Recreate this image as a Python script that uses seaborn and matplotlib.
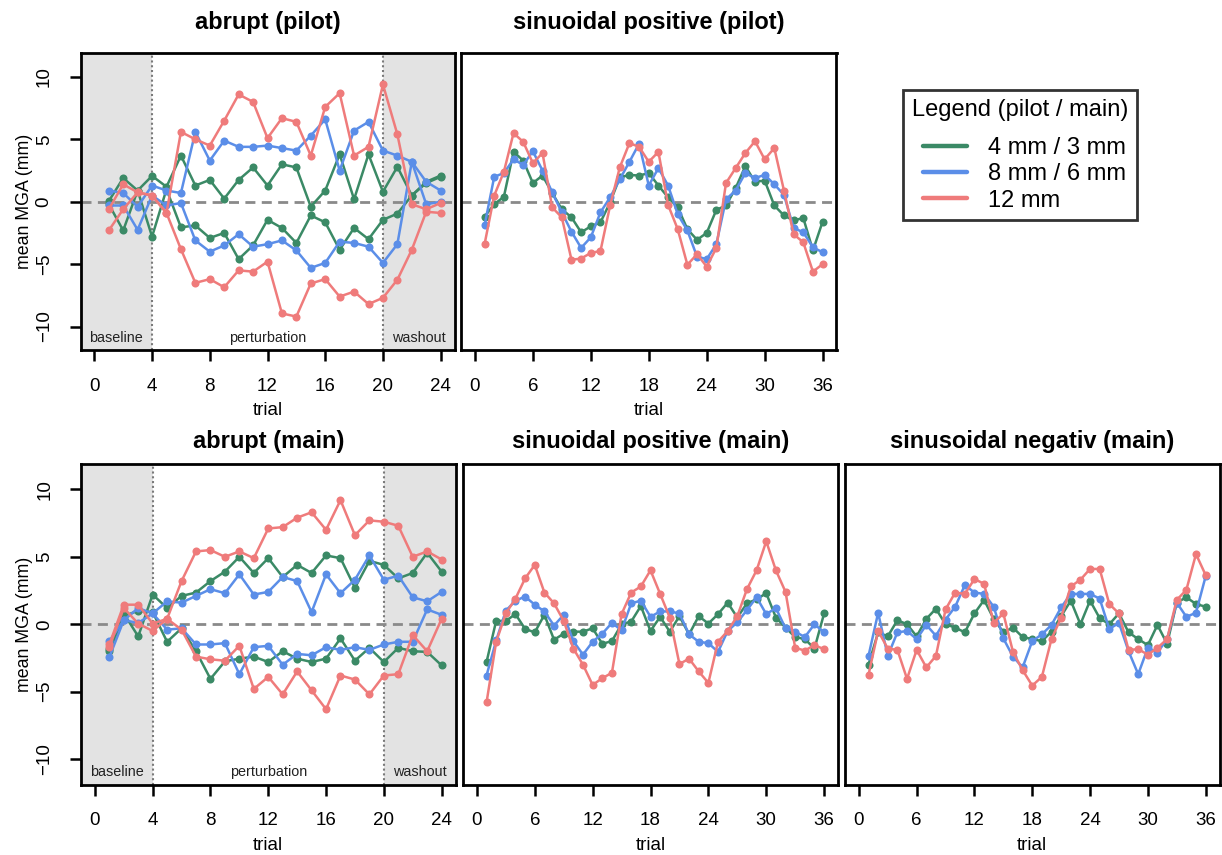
import numpy as np
import pandas as pd
import matplotlib
matplotlib.use("Agg")
import matplotlib.pyplot as plt
import seaborn as sns
from matplotlib.lines import Line2D
from matplotlib.legend_handler import HandlerBase

sns.set_style("ticks")
plt.rcParams["font.family"] = ["Liberation Sans", "DejaVu Sans"]
plt.rcParams["text.color"] = "black"
plt.rcParams["axes.labelcolor"] = "black"
plt.rcParams["axes.titlecolor"] = "black"

# ---------------- data ----------------
sizes = ["4 mm / 3 mm", "8 mm / 6 mm", "12 mm"]
colors = ["#3b8a66", "#5b8ee8", "#ef7b7b"]
trials24 = list(range(1, 25))
trials36 = list(range(1, 37))
xticks24 = [0, 4, 8, 12, 16, 20, 24]
xticks36 = [0, 6, 12, 18, 24, 30, 36]
yticks = [-10, -5, 0, 5, 10]
ytick_labels = ["\u221210", "\u22125", "0", "5", "10"]
phase_labels = ["baseline", "perturbation", "washout"]
titles = ["abrupt (pilot)", "sinuoidal positive (pilot)", "abrupt (main)",
          "sinuoidal positive (main)", "sinusoidal negativ (main)"]

# abrupt (pilot): positive / negative perturbation direction
ap_g_pos = [0.05, 1.9, 0.9, 2.07, 1.2, 3.7, 1.3, 1.75, 0.25, 1.75, 2.75, 1.3,
            3.0, 2.75, -0.4, 0.9, 3.8, 0.2, 3.8, 0.8, 2.8, 0.5, 1.5, 2.0]
ap_g_neg = [-0.2, -2.3, 0.9, -2.8, 1.0, -2.05, -1.9, -2.9, -2.5, -4.6, -3.5, -1.45,
            -2.1, -3.3, -1.1, -1.65, -3.85, -2.1, -3.0, -1.45, -0.95, 0.5, 1.6, 2.1]
ap_b_pos = [0.9, 0.7, -0.4, 1.3, 0.9, 0.7, 5.6, 3.3, 4.9, 4.4, 4.4, 4.5,
            4.3, 4.1, 5.3, 6.6, 2.5, 5.7, 6.4, 4.1, 3.7, 3.2, 1.6, 0.9]
ap_b_neg = [-0.3, -0.3, -2.25, 0.5, -0.3, -0.1, -3.1, -4.0, -3.5, -2.6, -3.6, -3.4,
            -3.1, -3.9, -5.3, -4.9, -3.2, -3.3, -3.6, -4.9, -3.4, 3.2, -0.2, 0.0]
ap_r_pos = [-0.6, 1.4, 0.75, 0.5, -0.9, 5.6, 5.0, 4.5, 6.5, 8.6, 8.0, 5.1,
            6.7, 6.4, 3.7, 7.6, 8.7, 3.7, 4.4, 9.4, 5.4, -0.2, -0.6, -0.1]
ap_r_neg = [-2.3, -0.6, 0.75, 0.5, -0.9, -3.8, -6.5, -6.2, -6.85, -5.5, -5.6, -4.8,
            -8.95, -9.2, -6.55, -6.2, -7.6, -7.2, -8.2, -7.7, -6.25, -3.85, -0.8, -0.9]

# sinusoidal positive (pilot)
sp_g = [-1.2, -0.2, 0.4, 4.0, 3.3, 1.5, 2.1, 0.7, -0.6, -1.25, -2.45, -1.97,
        -1.65, -0.05, 1.95, 2.15, 2.1, 2.3, 1.3, 0.35, -0.45, -2.2, -3.05, -2.5,
        -0.65, -0.3, 1.1, 2.85, 1.6, 1.7, -0.3, -1.1, -1.5, -1.3, -3.9, -1.6]
sp_b = [-1.9, 2.0, 2.3, 3.4, 2.95, 4.05, 2.5, 0.75, -0.85, -2.4, -3.7, -2.85,
        -0.85, 0.35, 1.8, 3.2, 4.65, 1.3, 2.7, 1.3, -1.0, -2.3, -4.4, -4.6,
        -3.4, 0.2, 0.9, 2.3, 1.9, 2.15, 1.4, 0.55, -2.1, -2.45, -3.65, -4.05]
sp_r = [-3.4, 0.5, 2.4, 5.5, 4.8, 3.1, 3.9, -0.45, -1.25, -4.65, -4.55, -4.1,
        -3.95, -0.3, 2.75, 4.7, 4.4, 3.2, 4.0, -0.25, -2.2, -5.05, -4.2, -5.2,
        -3.7, 1.5, 2.7, 3.9, 4.85, 3.4, 4.3, 0.9, -2.6, -3.25, -5.6, -5.0]

# abrupt (main)
am_g_pos = [-1.8, 0.8, -0.9, 2.2, 1.2, 2.1, 2.35, 3.2, 3.9, 5.0, 3.8, 4.9,
            3.5, 4.4, 3.8, 5.1, 4.9, 2.7, 4.7, 4.4, 3.4, 3.8, 5.3, 3.9]
am_g_neg = [-2.0, 0.6, 1.0, 0.9, -1.3, -0.3, -2.0, -4.05, -2.75, -2.55, -2.4, -2.8,
            -2.0, -2.55, -2.8, -2.55, -1.05, -2.7, -1.75, -2.8, -1.75, -2.0, -2.05, -3.05]
am_b_pos = [-1.25, 0.3, 1.2, 0.8, 1.7, 1.6, 2.1, 2.6, 2.3, 3.7, 2.2, 2.4,
            3.5, 3.2, 0.9, 3.7, 2.3, 3.3, 5.1, 3.3, 3.6, 2.0, 1.7, 2.4]
am_b_neg = [-2.45, 0.3, 0.1, 0.8, -0.4, -0.3, -1.5, -1.5, -1.4, -3.7, -1.7, -1.6,
            -3.0, -2.2, -2.3, -1.7, -1.9, -1.7, -1.9, -1.5, -1.3, -1.3, 1.1, 0.7]
am_r_pos = [-1.5, 1.45, 1.45, 0.05, 0.4, 3.2, 5.4, 5.5, 5.0, 5.4, 4.9, 7.1,
            7.2, 7.9, 8.3, 7.0, 9.2, 6.6, 7.7, 7.6, 7.3, 5.0, 5.4, 4.8]
am_r_neg = [-1.7, 1.2, 0.05, -0.5, 0.4, -0.4, -2.4, -2.6, -2.7, -1.6, -4.8, -3.9,
            -5.2, -3.5, -4.9, -6.3, -3.8, -4.1, -5.2, -3.8, -3.7, -0.8, -2.0, 0.4]

# sinusoidal positive (main)
spm_g = [-2.8, 0.25, 0.25, 0.75, -0.35, -0.6, 0.7, -1.15, -0.7, -0.55, -0.55, -0.3,
         -1.45, -1.25, 0.0, 0.2, 1.35, -0.5, 0.55, -0.55, 0.6, -0.75, 0.6, 0.05,
         0.75, 1.6, 0.5, 1.55, 1.85, 2.3, 0.5, -0.25, -0.95, -1.1, -1.8, 0.8]
spm_b = [-3.8, -1.2, 1.0, 1.75, 2.05, 1.45, 0.95, -0.1, 0.7, -1.25, -2.25, -1.3,
         -0.7, 0.1, -0.45, 1.55, 1.75, 0.55, 0.95, 0.95, 0.8, -0.75, -1.3, -1.4,
         -2.05, -0.5, 0.15, 1.05, 2.0, 0.75, 1.2, -0.3, -0.55, -0.95, 0.0, -0.6]
spm_r = [-5.8, -1.3, 0.8, 1.9, 3.4, 4.4, 2.35, 1.55, 0.25, -1.8, -3.0, -4.5,
         -4.0, -3.6, 0.75, 2.35, 2.8, 4.0, 2.25, 0.5, -2.95, -2.55, -3.5, -4.35,
         -1.3, -0.5, 0.6, 2.6, 4.0, 6.15, 4.0, 2.4, -1.75, -1.95, -1.55, -1.85]

# sinusoidal negative (main)
snm_g = [-3.0, -0.6, -0.9, 0.3, 0.0, -0.9, 0.4, 1.15, 0.0, -0.25, -0.6, 0.8,
         1.8, 0.4, -0.6, -0.25, -0.95, -1.1, -1.25, -0.55, 0.6, 1.75, 0.0, 1.75,
         0.45, 0.0, 0.8, -0.6, -1.1, -1.55, -0.05, -1.45, 1.6, 2.0, 1.5, 1.3]
snm_b = [-2.35, 0.85, -2.35, -0.6, -0.5, -1.1, -0.05, -0.85, 0.35, 1.3, 2.9, 2.35,
         2.25, 1.3, -1.05, -2.4, -3.2, -1.25, -0.75, -0.05, 1.25, 2.25, 2.25, 2.25,
         1.9, -0.35, 0.1, -2.0, -3.7, -1.75, -2.1, -1.1, 1.6, 0.55, 0.85, 3.55]
snm_r = [-3.75, -0.5, -1.8, -1.9, -4.05, -1.9, -3.2, -2.35, 1.1, 2.35, 2.25, 3.35,
         3.0, 0.1, 0.8, -2.05, -3.4, -4.55, -3.9, -1.1, 0.5, 2.8, 3.3, 4.1,
         4.1, 1.5, 0.8, -1.9, -1.85, -2.25, -1.75, -1.1, 1.8, 2.55, 5.2, 3.65]

# ---------------- helpers ----------------
pal = dict(zip(sizes, colors))


def abrupt_df(gp, gn, bp, bn, rp, rn):
    parts = []
    for size, pos, neg in zip(sizes, [gp, bp, rp], [gn, bn, rn]):
        for d, vals in (("pos", pos), ("neg", neg)):
            parts.append(pd.DataFrame({"trial": trials24, "mga": vals,
                                       "size": size, "dir": d}))
    return pd.concat(parts, ignore_index=True)


def sin_df(g, b, r):
    parts = []
    for size, vals in zip(sizes, [g, b, r]):
        parts.append(pd.DataFrame({"trial": trials36, "mga": vals, "size": size}))
    return pd.concat(parts, ignore_index=True)


W, H = 1222, 855
fig = plt.figure(figsize=(W / 100, H / 100), dpi=100)


def add_ax(l, r, t, b):
    return fig.add_axes([l / W, 1 - b / H, (r - l) / W, (b - t) / H])


ax_tl = add_ax(80.5, 454.5, 53.5, 350)
ax_tm = add_ax(461, 836.5, 53.5, 350)
ax_bl = add_ax(81, 455.5, 464, 784.5)
ax_bm = add_ax(463, 838, 464, 784.5)
ax_br = add_ax(845, 1219.5, 464, 784.5)

line_kw = dict(marker="o", markersize=5.8, markeredgewidth=0, linewidth=1.8,
               legend=False, palette=pal, hue_order=sizes)

TICK_FS = 13.5


def style(ax, is_abrupt, show_y, title, title_pad):
    if is_abrupt:
        ax.set_xlim(-0.96, 24.96)
        ax.axvspan(-2, 4, color="#e3e3e3", zorder=0, lw=0)
        ax.axvspan(20, 27, color="#e3e3e3", zorder=0, lw=0)
        ax.axvline(4, color="#7a7a7a", ls=(0, (1, 1.3)), lw=1.5, zorder=1)
        ax.axvline(20, color="#7a7a7a", ls=(0, (1, 1.3)), lw=1.5, zorder=1)
        xs = [(-0.96 + 4) / 2, 12, (20 + 24.96) / 2]
        for x, lab in zip(xs, phase_labels):
            ax.text(x, -10.95, lab, ha="center", va="center", fontsize=10.4,
                    color="#222222")
        ax.set_xticks(xticks24)
    else:
        ax.set_xlim(-1.44, 37.44)
        ax.set_xticks(xticks36)
    ax.set_ylim(-11.88, 11.88)
    ax.axhline(0, color="#8a8a8a", ls=(0, (3.6, 2.3)), lw=2, zorder=1.5)
    for s in ax.spines.values():
        s.set_visible(True)
        s.set_linewidth(2)
        s.set_color("black")
    ax.tick_params(axis="both", direction="out", length=8, width=1.8,
                   labelsize=TICK_FS, pad=12, colors="black")
    ax.set_xlabel("trial", fontsize=TICK_FS, labelpad=5.5)
    if show_y:
        ax.set_yticks(yticks)
        ax.set_yticklabels(ytick_labels, rotation=90, va="center")
        ax.set_ylabel("mean MGA (mm)", fontsize=12.8, labelpad=2)
    else:
        ax.set_yticks([])
        ax.set_ylabel("")
    ax.set_title(title, fontsize=17, fontweight="bold", pad=title_pad)
    ax.set_facecolor("white")


# ---------------- plotting ----------------
sns.lineplot(data=abrupt_df(ap_g_pos, ap_g_neg, ap_b_pos, ap_b_neg, ap_r_pos, ap_r_neg),
             x="trial", y="mga", hue="size", units="dir", estimator=None,
             ax=ax_tl, **line_kw)
style(ax_tl, True, True, titles[0], 17.5)

sns.lineplot(data=sin_df(sp_g, sp_b, sp_r), x="trial", y="mga", hue="size",
             ax=ax_tm, **line_kw)
style(ax_tm, False, False, titles[1], 17.5)

sns.lineplot(data=abrupt_df(am_g_pos, am_g_neg, am_b_pos, am_b_neg, am_r_pos, am_r_neg),
             x="trial", y="mga", hue="size", units="dir", estimator=None,
             ax=ax_bl, **line_kw)
style(ax_bl, True, True, titles[2], 11.2)

sns.lineplot(data=sin_df(spm_g, spm_b, spm_r), x="trial", y="mga", hue="size",
             ax=ax_bm, **line_kw)
style(ax_bm, False, False, titles[3], 11.2)

sns.lineplot(data=sin_df(snm_g, snm_b, snm_r), x="trial", y="mga", hue="size",
             ax=ax_br, **line_kw)
style(ax_br, False, False, titles[4], 11.2)


# ---------------- legend ----------------
class IndentLine(HandlerBase):
    """Legend line handle drawn with a left indent (as in the reference)."""

    def create_artists(self, legend, orig_handle, xdescent, ydescent, width,
                       height, fontsize, trans):
        indent = 0.2 * width
        y = height / 2 - ydescent
        ln = Line2D([indent - xdescent, width - xdescent], [y, y],
                    color=orig_handle.get_color(), lw=orig_handle.get_linewidth(),
                    solid_capstyle="round")
        ln.set_transform(trans)
        return [ln]


handles = [Line2D([], [], color=c, lw=3.2) for c in colors]
leg = fig.legend(handles, sizes, title="Legend (pilot / main)",
                 loc="upper left", bbox_to_anchor=(903 / W, 1 - 90 / H),
                 borderaxespad=0, fontsize=17, title_fontsize=17,
                 handlelength=2.35, handletextpad=0.85, labelspacing=0.17,
                 borderpad=0.38, fancybox=False, frameon=True,
                 edgecolor="black", alignment="left", labelcolor="black",
                 handler_map={Line2D: IndentLine()})
leg.get_frame().set_linewidth(2)
leg.get_title().set_color("black")
leg._legend_box.sep = 0.17 * 17 + 9

fig.savefig("out.png", dpi=100)
